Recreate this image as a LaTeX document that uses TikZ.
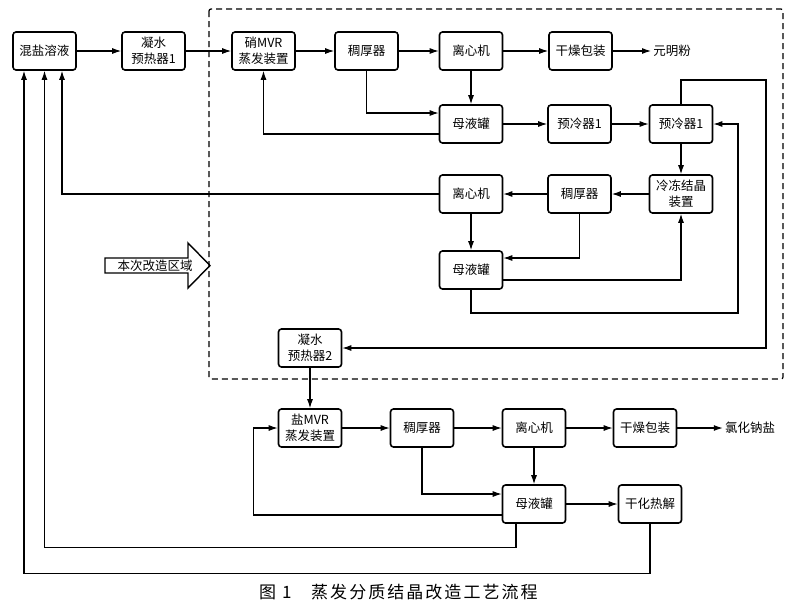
\documentclass[tikz,border=0pt]{standalone}
\usepackage{fontspec}
\setmainfont{Noto Sans CJK SC}
\usepackage{tikz}
\usetikzlibrary{arrows.meta}

\begin{document}
\begin{tikzpicture}[x=1pt,y=-1pt,
        box/.style={draw,line width=1.6pt,rounded corners=3pt,minimum width=63pt,
            minimum height=38pt,inner sep=1pt,align=center,font=\fontsize{12.5}{16}\selectfont},
        txt/.style={inner sep=2pt,font=\fontsize{12.5}{16}\selectfont},
        flow/.style={line width=1.1pt,-{Latex[length=9pt,width=6pt]}}]
        \useasboundingbox (0,0) rectangle (800,614);
        \draw[line width=1.2pt,dash pattern=on 6pt off 4pt,rounded corners=2pt] (209,9) rectangle (783,379);
        % nodes
        \node[box] (A) at (44.5,51) {混盐溶液};
        \node[box] (B) at (153.5,51) {凝水\\预热器1};
        \node[box] (C) at (263.5,51) {硝MVR\\蒸发装置};
        \node[box] (D) at (366.5,51) {稠厚器};
        \node[box] (E) at (471,51) {离心机};
        \node[box] (F) at (580.5,51) {干燥包装};
        \node[txt] (G) at (672,51) {元明粉};
        \node[box] (H) at (471,124) {母液罐};
        \node[box] (I) at (579.5,124) {预冷器1};
        \node[box] (J) at (681,124) {预冷器1};
        \node[box] (K) at (681,194) {冷冻结晶\\装置};
        \node[box] (L) at (579.5,194) {稠厚器};
        \node[box] (M) at (471,194) {离心机};
        \node[box] (N) at (471,270) {母液罐};
        \node[box] (O) at (310,348) {凝水\\预热器2};
        \node[box] (P) at (310,428) {盐MVR\\蒸发装置};
        \node[box] (Q) at (422,428) {稠厚器};
        \node[box] (R) at (534,428) {离心机};
        \node[box] (S) at (645,428) {干燥包装};
        \node[txt] (T) at (750,428) {氯化钠盐};
        \node[box] (U) at (534,504) {母液罐};
        \node[box] (V) at (650,504) {干化热解};
        % big arrow
        \draw[line width=1.4pt] (105,258) -- (188,258) -- (188,243) -- (210,265.5)
            -- (188,288) -- (188,273) -- (105,273) -- cycle;
        \node[txt] (W) at (155,265.5) {本次改造区域};
        % edges
        \draw[flow] (A) -- (B);
        \draw[flow] (B) -- (C);
        \draw[flow] (C) -- (D);
        \draw[flow] (D) -- (E);
        \draw[flow] (E) -- (F);
        \draw[flow] (F) -- (G);
        \draw[flow] (E) -- (H);
        \draw[flow] (D.south) |- ([yshift=11pt]H.west);
        \draw[flow] ([yshift=-10pt]H.west) -| (C.south);
        \draw[flow] (H) -- (I);
        \draw[flow] (I) -- (J);
        \draw[flow] (J.north) |- (766,80) |- (O.east);
        \draw[flow] (J) -- (K);
        \draw[flow] (K) -- (L);
        \draw[flow] (L) -- (M);
        \draw[flow] (M.west) -| ([xshift=17.5pt]A.south);
        \draw[flow] (M) -- (N);
        \draw[flow] (L.south) |- ([yshift=12pt]N.east);
        \draw[flow] ([yshift=-10pt]N.east) -| (K.south);
        \draw[flow] (N.south) |- (738,313) |- (J.east);
        \draw[flow] (O) -- (P);
        \draw[flow] (P) -- (Q);
        \draw[flow] (Q) -- (R);
        \draw[flow] (R) -- (S);
        \draw[flow] (S) -- (T);
        \draw[flow] (R) -- (U);
        \draw[flow] (Q.south) |- ([yshift=10pt]U.west);
        \draw[flow] ([yshift=-11pt]U.west) -| ([xshift=-24pt]P.west) -- (P.west);
        \draw[flow] ([xshift=-18pt]U.south) -- ++(0,24) -| (A.south);
        \draw[flow] (V.south) -- ++(0,49.5) -| ([xshift=-20.5pt]A.south);
        \draw[flow] (U) -- (V);
        % caption
        \node[inner sep=0pt,anchor=west,font=\fontsize{17}{20}\selectfont] (X) at (259,592) {图\hspace{6pt}1};
        \node[inner sep=0pt,anchor=west,font=\fontsize{17}{20}\selectfont\addfontfeature{LetterSpace=12}] (Y) at (311,592) {蒸发分质结晶改造工艺流程};
\end{tikzpicture}
\end{document}
